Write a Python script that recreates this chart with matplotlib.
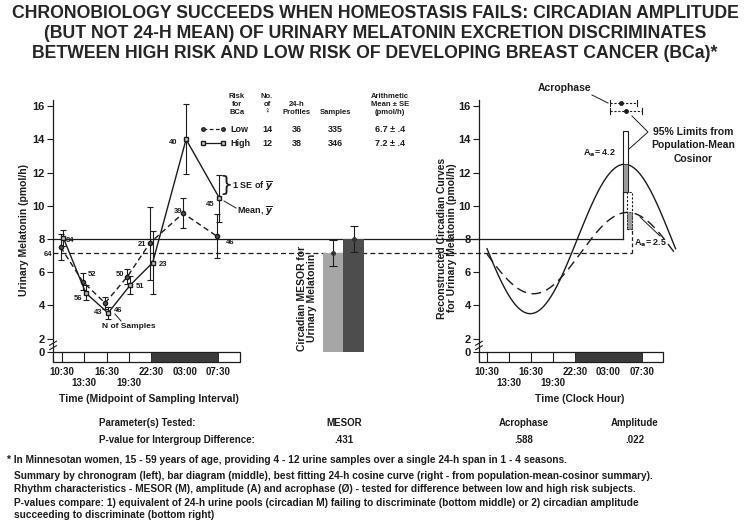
import numpy as np
import matplotlib
matplotlib.use("Agg")
import matplotlib.pyplot as plt
from matplotlib.patches import Rectangle
from matplotlib.lines import Line2D
import matplotlib.transforms as mtrans
from matplotlib import font_manager

# ------------------------------------------------------------------ data
time_labels = ['10:30', '13:30', '16:30', '19:30', '22:30', '03:00', '07:30']
time_hours = [0, 3, 6, 9, 12, 16.5, 21]          # hours after 10:30
dark_span = [12, 21]                              # 22:30 -> 07:30

low_mean = [7.52, 5.43, 4.14, 5.73, 7.74, 9.55, 8.18]
low_se = [0.8, 0.5, 0.35, 0.45, 2.2, 0.9, 1.3]
low_n = [64, 52, 43, 50, 21, 39, 46]
high_mean = [8.05, 4.75, 3.54, 5.23, 6.57, 14.0, 10.45]
high_se = [0.5, 0.45, 0.35, 0.55, 1.9, 2.1, 1.4]
high_n = [84, 56, 46, 51, 23, 40, 45]

mesor = [7.15, 8.0]            # low, high
mesor_se = [0.8, 0.8]
amplitude = [2.45, 4.5]        # drawn amplitude (low, high)
amp_ci = [(1.45, 3.65), (2.8, 6.5)]
curve_phase = [17.9, 17.5]     # hours of cosine time after 10:30
acrophase = [18.83, 18.14]     # low, high (hours after 10:30)
acro_ci = [(16.64, 21.0), (16.64, 20.33)]

table_rows = [('Low', '14', '36', '335', '6.7 \u00b1 .4'),
              ('High', '12', '38', '346', '7.2 \u00b1 .4')]

# ------------------------------------------------------------------ style
W, H = 750, 522
BASE = ['Liberation Sans', 'DejaVu Sans']
plt.rcParams['font.family'] = BASE
plt.rcParams['font.weight'] = 'bold'
plt.rcParams['axes.linewidth'] = 0.9
INK = '#1c1c1c'

try:
    font_manager.findfont('Liberation Sans Narrow', fallback_to_default=False)
    TITLE_FONT = ['Liberation Sans Narrow', 'DejaVu Sans']
    TITLE_SIZE = 15.5
except Exception:
    TITLE_FONT = BASE
    TITLE_SIZE = 12.7

fig = plt.figure(figsize=(7.5, 5.22), dpi=100)


def fx(x):
    return x / W


def fy(y):
    return 1 - y / H


def ftext(x, y, s, **kw):
    kw.setdefault('ha', 'center')
    kw.setdefault('va', 'center')
    kw.setdefault('fontweight', 'bold')
    kw.setdefault('color', INK)
    return fig.text(fx(x), fy(y), s, **kw)


YTOP, YBOT = 16.37, 0.59
ZERO = 1.19
ax_bottom = fy(362)
ax_h = (362 - 100) / H

ax_l = fig.add_axes([fx(53), ax_bottom, fx(240) - fx(53), ax_h])
ax_m = fig.add_axes([fx(312.5), ax_bottom, 61.5 / W, ax_h])
ax_r = fig.add_axes([fx(479), ax_bottom, fx(663) - fx(479), ax_h])
ax_l.set_xlim(-1.21, 23.96)
ax_r.set_xlim(-1.09, 23.9)
ax_m.set_xlim(0, 3)
for ax in (ax_l, ax_m, ax_r):
    ax.set_ylim(YBOT, YTOP)
    ax.set_facecolor('none')
ax_m.axis('off')

yt = [ZERO, 2, 4, 6, 8, 10, 12, 14, 16]
ytl = ['0', '2', '4', '6', '8', '10', '12', '14', '16']
for ax in (ax_l, ax_r):
    for s in ('top', 'right', 'bottom'):
        ax.spines[s].set_visible(False)
    ax.spines['left'].set_color(INK)
    ax.set_xticks([])
    ax.set_yticks(yt)
    ax.set_yticklabels(ytl, fontsize=8, fontweight='bold', color=INK)
    ax.tick_params(axis='y', length=4, width=0.8, color=INK, pad=2)
    # axis break marks between 0 and 2
    tr = mtrans.blended_transform_factory(ax.transAxes, ax.transData)
    for yb in (1.45, 1.72):
        ax.plot([-0.018, 0.018], [yb - 0.12, yb + 0.12], color=INK, lw=0.8,
                transform=tr, clip_on=False, zorder=6)
    # time strip
    x0, x1 = ax.get_xlim()
    ax.add_patch(Rectangle((x0, YBOT), x1 - x0, ZERO - YBOT, fc='white',
                           ec=INK, lw=0.9, clip_on=False, zorder=3))
    ax.add_patch(Rectangle((dark_span[0], YBOT), dark_span[1] - dark_span[0],
                           ZERO - YBOT, fc='#3b3b3b', ec=INK, lw=0.6, zorder=3.5))
    for t in time_hours[:4]:
        ax.plot([t, t], [YBOT, ZERO], color=INK, lw=0.8, zorder=4)
    trl = mtrans.blended_transform_factory(ax.transData, fig.transFigure)
    for i, (t, lab) in enumerate(zip(time_hours, time_labels)):
        yy = 383 if i in (1, 3) else 372
        ax.text(t, fy(yy), lab, transform=trl, ha='center', va='center',
                fontsize=7, fontweight='bold', color=INK)

# ------------------------------------------------------------------ left chronogram
xl = np.array(time_hours)
ax_l.errorbar(xl - 0.2, low_mean, yerr=low_se, fmt='none', ecolor=INK,
              elinewidth=0.8, capsize=2.5, capthick=0.8, zorder=5)
ax_l.errorbar(xl + 0.2, high_mean, yerr=high_se, fmt='none', ecolor=INK,
              elinewidth=0.8, capsize=2.5, capthick=0.8, zorder=5)
ax_l.plot(xl - 0.2, low_mean, ls=(0, (4, 2.5)), color=INK, lw=1.0,
          marker='o', ms=3, mfc='#555', mec=INK, zorder=6)
ax_l.plot(xl + 0.2, high_mean, ls='-', color=INK, lw=1.0,
          marker='s', ms=3.5, mfc='#c8c8c8', mec=INK, zorder=6)

# sample counts
low_lab_pos = [(48, 255), (92, 275), (98, 312), (120, 274), (142, 244), (178, 211), (230, 243)]
high_lab_pos = [(70, 240), (78, 299), (118, 310), (140, 287), (163, 265), (173, 142), (210, 204)]
for n, (px, py) in zip(low_n, low_lab_pos):
    ftext(px, py, str(n), fontsize=5.5)
for n, (px, py) in zip(high_n, high_lab_pos):
    ftext(px, py, str(n), fontsize=5.5)

ftext(129, 327, 'N of Samples', fontsize=6)
fig.add_artist(Line2D([fx(115), fx(121)], [fy(314), fy(321)], color=INK, lw=0.7))

ftext(226, 185, '}', fontsize=15, fontweight='normal', family='DejaVu Sans')
ftext(232, 186, r'1 SE of $\overline{y}$', fontsize=6.5, ha='left')
ftext(237, 211, r'Mean, $\overline{y}$', fontsize=6.5, ha='left')
fig.add_artist(Line2D([fx(236), fx(224)], [fy(208), fy(201)], color=INK, lw=0.7))

# legend table
for x, lines, y0 in [(237, ['Risk', 'for', 'BCa'], 96), (267, ['No.', 'of', '\u2640'], 96),
                     (297, ['24-h', 'Profiles'], 104), (335, ['Samples'], 112),
                     (390, ['Arithmetic', 'Mean \u00b1 SE', '(pmol/h)'], 96)]:
    for k, s in enumerate(lines):
        ftext(x, y0 + 8 * k, s, fontsize=5.5)
legend_styles = [(129, (0, (3, 2)), 'o', '#555'), (143, '-', 's', '#c8c8c8')]
for row, (y, lsty, mk, mfc) in zip(table_rows, legend_styles):
    name, nw, prof, samp, am = row
    fig.add_artist(Line2D([fx(203), fx(223)], [fy(y), fy(y)], color=INK, lw=0.9,
                          ls=lsty, marker=mk, ms=2.5, mfc=mfc, mec=INK))
    ftext(230, y, name, fontsize=6.5, ha='left')
    ftext(267, y, nw, fontsize=6.5)
    ftext(297, y, prof, fontsize=6.5)
    ftext(335, y, samp, fontsize=6.5)
    ftext(390, y, am, fontsize=6.5)

# ------------------------------------------------------------------ middle bar diagram
ax_m.bar([1, 2], [mesor[0] - ZERO, mesor[1] - ZERO], bottom=ZERO, width=1.0,
         color=['#a6a6a6', '#4d4d4d'], edgecolor='none', zorder=2)
ax_m.errorbar([1, 2], mesor, yerr=mesor_se, fmt='none', ecolor=INK,
              elinewidth=0.8, capsize=3, capthick=0.8, zorder=3)
ax_m.plot([1, 2], mesor, ls='none', marker='o', ms=2.5, color='#333', zorder=4)

# ------------------------------------------------------------------ right cosinor curves
CURVE_SCALE = 1.067
tt = np.linspace(0, 24, 400)
curve_styles = {1: '-', 0: (0, (7, 4))}
for i in (1, 0):
    yy = mesor[i] + amplitude[i] * np.cos(2 * np.pi * (tt - curve_phase[i]) / 24)
    ax_r.plot(tt * CURVE_SCALE, yy, color=INK, lw=1.0, ls=curve_styles[i],
              clip_on=False, zorder=4)

# amplitude 95% limits
rect_x = [(18.96, 19.65), (18.4, 19.1)]   # low, high
rect_styles = {1: '-', 0: (0, (2, 1.5))}
for i in (1, 0):
    xa, xb = rect_x[i]
    lo, hi = mesor[i] + amp_ci[i][0], mesor[i] + amp_ci[i][1]
    ax_r.add_patch(Rectangle((xa, lo), xb - xa, hi - lo, fc='white', ec=INK,
                             lw=0.8, ls=rect_styles[i], zorder=5))
    ax_r.add_patch(Rectangle((xa, lo), xb - xa, mesor[i] + amplitude[i] - lo,
                             fc='#9a9a9a', ec=INK, lw=0.6, ls=rect_styles[i], zorder=5.5))
# vertical connectors from MESOR
ax_r.plot([rect_x[1][0]] * 2, [mesor[1], mesor[1] + amp_ci[1][0]], color=INK, lw=0.9, zorder=5)
ax_r.plot([rect_x[0][1]] * 2, [mesor[0], mesor[0] + amp_ci[0][0]], color=INK, lw=0.9,
          ls=(0, (3, 2)), zorder=5)

# acrophase with 95% limits
for i, yb in [(1, 16.2), (0, 15.7)]:
    a, b = acro_ci[i]
    ax_r.plot([a, b], [yb, yb], color=INK, lw=0.8, ls=(0, (2, 1.5)), clip_on=False, zorder=5)
    ax_r.plot([a, a], [yb - 0.18, yb + 0.18], color=INK, lw=0.8, clip_on=False)
    ax_r.plot([b, b], [yb - 0.18, yb + 0.18], color=INK, lw=0.8, clip_on=False)
    ax_r.plot([acrophase[i]], [yb], marker='o', ms=2.5, color=INK, clip_on=False)

ftext(565, 88, 'Acrophase', fontsize=7.5)
fig.add_artist(Line2D([fx(592), fx(608)], [fy(95), fy(103)], color=INK, lw=0.7))
for k, s in enumerate(['95% Limits from', 'Population-Mean', 'Cosinor']):
    ftext(693, 132 + 13.5 * k, s, fontsize=7.5)
fig.add_artist(Line2D([fx(632), fx(648), fx(629)], [fy(116), fy(132), fy(149)],
                      color=INK, lw=0.7))
ftext(616, 153, r'A$_{\mathsf{a}}$= 4.2', fontsize=6.5, ha='right')
ftext(634, 243, r'A$_{\mathsf{a}}$= 2.5', fontsize=6.5, ha='left')
fig.add_artist(Line2D([fx(660), fx(640)], [fy(236), fy(217)], color=INK, lw=0.7))

# ------------------------------------------------------------------ MESOR reference lines
fig.canvas.draw()
tr_line = mtrans.blended_transform_factory(fig.transFigure, ax_l.transData)
inv = fig.transFigure.inverted()
x_end_high = inv.transform(ax_r.transData.transform((rect_x[1][0], 0)))[0]
x_end_low = inv.transform(ax_r.transData.transform((rect_x[0][1], 0)))[0]
fig.add_artist(Line2D([fx(53), x_end_high], [mesor[1], mesor[1]], transform=tr_line,
                      color=INK, lw=0.9, zorder=-1))
fig.add_artist(Line2D([fx(53), x_end_low], [mesor[0], mesor[0]], transform=tr_line,
                      color=INK, lw=0.9, ls=(0, (4, 2.5)), zorder=-1))

# ------------------------------------------------------------------ axis titles
ftext(24, 230, 'Urinary Melatonin (pmol/h)', fontsize=7.5, rotation=90)
ftext(307, 298, 'Circadian MESOR for\nUrinary Melatonin', fontsize=7.5, rotation=90,
      linespacing=1.05)
ftext(447, 238, 'Reconstructed Circadian Curves\nfor Urinary Melatonin (pmol/h)',
      fontsize=7.5, rotation=90, linespacing=1.05)
ftext(149, 399, 'Time (Midpoint of Sampling Interval)', fontsize=7.5)
ftext(580, 399, 'Time (Clock Hour)', fontsize=7.5)

# ------------------------------------------------------------------ title
title_lines = ['CHRONOBIOLOGY SUCCEEDS WHEN HOMEOSTASIS FAILS: CIRCADIAN AMPLITUDE',
               '(BUT NOT 24-H MEAN) OF URINARY MELATONIN EXCRETION DISCRIMINATES',
               'BETWEEN HIGH RISK AND LOW RISK OF DEVELOPING BREAST CANCER (BCa)*']
for k, s in enumerate(title_lines):
    ftext(375, 13 + 20 * k, s, fontsize=TITLE_SIZE, family=TITLE_FONT, color='#262626')

# ------------------------------------------------------------------ tests
ftext(99, 423, 'Parameter(s) Tested:', fontsize=7, ha='left')
ftext(99, 440, 'P-value for Intergroup Difference:', fontsize=7, ha='left')
for x, p, v in [(344, 'MESOR', '.431'), (524, 'Acrophase', '.588'), (635, 'Amplitude', '.022')]:
    ftext(x, 423, p, fontsize=7)
    ftext(x, 440, v, fontsize=7)

notes = [('* In Minnesotan women, 15 - 59 years of age, providing 4 - 12 urine samples over a single 24-h span in 1 - 4 seasons.', 7, 460),
         ('Summary by chronogram (left), bar diagram (middle), best fitting 24-h cosine curve (right - from population-mean-cosinor summary).', 14, 476),
         ('Rhythm characteristics - MESOR (M), amplitude (A) and acrophase (\u00d8) - tested for difference between low and high risk subjects.', 14, 489.5),
         ('P-values compare: 1) equivalent of 24-h urine pools (circadian M) failing to discriminate (bottom middle) or 2) circadian amplitude', 14, 503),
         ('succeeding to discriminate (bottom right)', 14, 515.5)]
for s, x, y in notes:
    ftext(x, y, s, fontsize=7.3, ha='left')

fig.savefig('out.png', dpi=100)
